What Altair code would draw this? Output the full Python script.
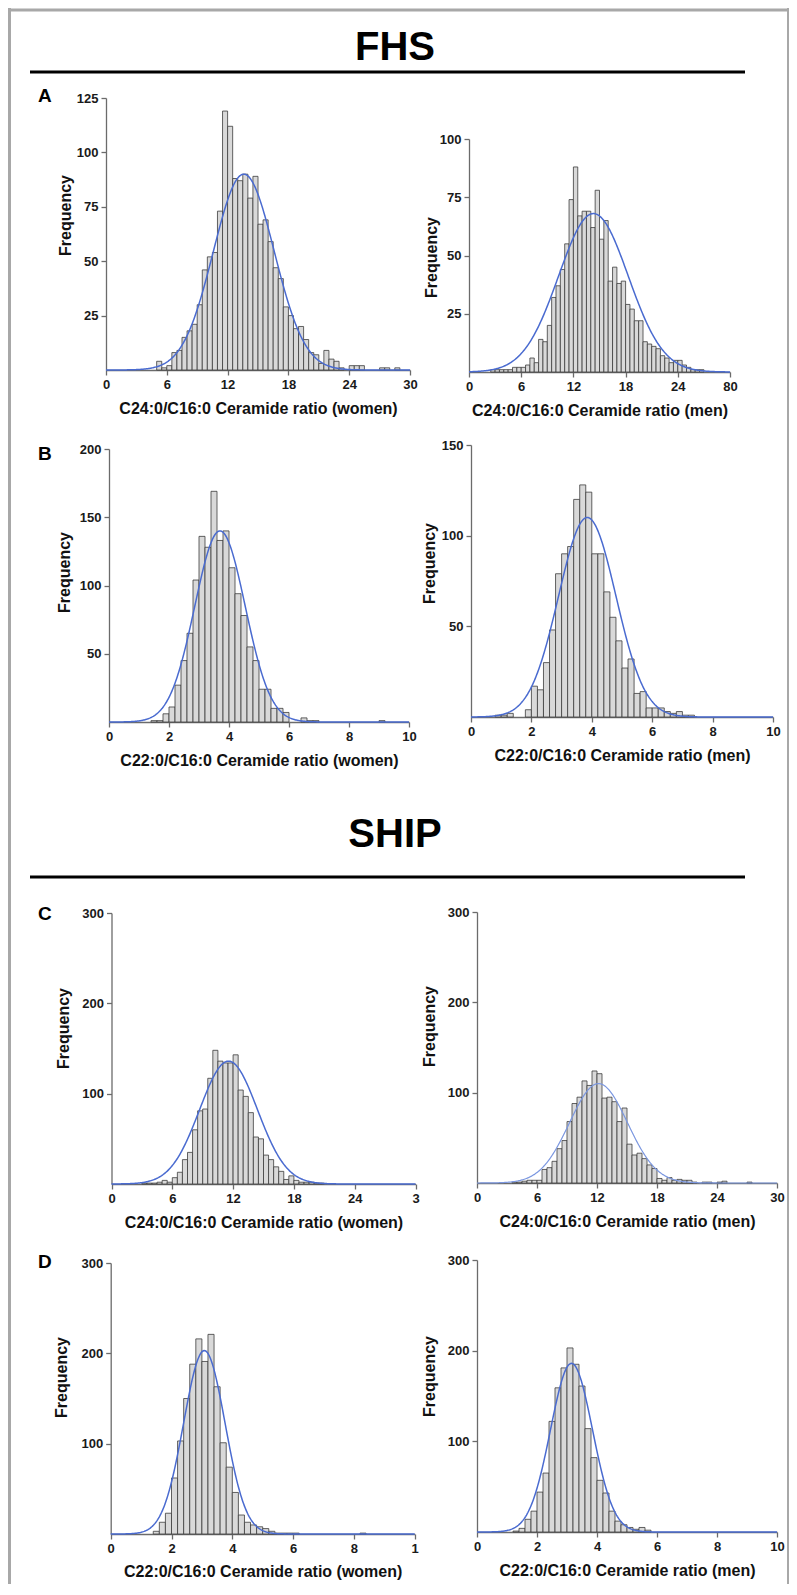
import altair as alt
import pandas as pd

FONT = "Liberation Sans"
FRAME_GRAY = "#a8a8a8"
BAR_FILL = "#d9d9d9"
BAR_STROKE = "#3c3c3c"
CURVE = "#4a6bd0"

# ---------------- data ----------------
# histogram = (first bin left edge, bin width, counts)
fhs_c24_women_start, fhs_c24_women_step = 5.0, 0.5
fhs_c24_women_counts = [4, 1, 2, 8, 9, 15, 18, 21, 30, 46, 52, 54, 73, 119, 112, 88, 87, 90, 79, 89,
                        67, 69, 59, 47, 42, 29, 25, 19, 20, 14, 8, 7, 3, 9, 5, 4, 1, 0, 2, 2,
                        2, 0, 0, 0, 1, 1, 0, 1]
fhs_c24_women_fit = (13.6, 3.0, 90)      # mean, sd, peak height

fhs_c24_men_start, fhs_c24_men_step = 2.5, 0.5
fhs_c24_men_counts = [1, 1, 1, 1, 1, 2, 2, 2, 3, 6, 4, 14, 13, 20, 32, 37, 44, 55, 74, 88,
                      67, 69, 69, 62, 78, 57, 65, 39, 45, 38, 39, 29, 27, 22, 22, 13, 12, 11, 10, 7,
                      6, 4, 5, 5, 3, 2, 1, 1, 1]
fhs_c24_men_fit = (14.3, 4.0, 68)

fhs_c22_women_start, fhs_c22_women_step = 1.4, 0.2
fhs_c22_women_counts = [1, 1, 6, 11, 27, 45, 65, 104, 136, 128, 169, 133, 140, 113, 94, 78, 55, 45, 24, 24,
                        10, 10, 7, 0, 0, 3, 1, 1, 0, 0, 0, 0, 0, 0, 0, 0, 0, 0, 1]
fhs_c22_women_fit = (3.7, 0.84, 140)

fhs_c22_men_start, fhs_c22_men_step = 0.8, 0.2
fhs_c22_men_counts = [1, 1, 2, 0, 0, 4, 17, 15, 30, 48, 79, 90, 94, 120, 128, 124, 90, 90, 69, 55,
                      42, 27, 32, 13, 14, 5, 5, 5, 3, 2, 3, 1, 1]
fhs_c22_men_fit = (3.85, 0.95, 110)

ship_c24_women_start, ship_c24_women_step = 3.0, 0.5
ship_c24_women_counts = [1, 1, 1, 2, 4, 2, 7, 13, 27, 35, 60, 81, 83, 117, 148, 136, 134, 134, 143, 104,
                         97, 79, 52, 50, 32, 27, 19, 14, 5, 9, 4, 2, 2, 2, 1, 1]
ship_c24_women_fit = (11.55, 2.85, 136)

ship_c24_men_start, ship_c24_men_step = 3.5, 0.5
ship_c24_men_counts = [1, 1, 2, 3, 3, 3, 15, 17, 24, 38, 47, 68, 88, 95, 113, 108, 124, 121, 94, 95,
                       90, 68, 83, 43, 31, 33, 27, 20, 16, 5, 3, 6, 3, 4, 3, 3, 1, 0, 1, 1,
                       0, 1, 2, 0, 0, 0, 0, 1]
ship_c24_men_fit = (12.15, 2.9, 110)

ship_c22_women_start, ship_c22_women_step = 1.4, 0.2
ship_c22_women_counts = [3, 13, 23, 62, 103, 150, 188, 216, 191, 221, 163, 101, 74, 46, 21, 13, 10, 8, 6, 3,
                         1, 1, 1, 1, 0, 0, 0, 0, 0, 0, 0, 0, 0, 0, 1]
ship_c22_women_fit = (3.08, 0.68, 203)

ship_c22_men_start, ship_c22_men_step = 1.2, 0.2
ship_c22_men_counts = [1, 4, 14, 23, 44, 65, 122, 159, 181, 203, 185, 161, 114, 82, 57, 43, 23, 12, 8, 5,
                       3, 5, 2]
ship_c22_men_fit = (3.15, 0.70, 186)

ticks_30 = [0, 6, 12, 18, 24, 30]
ticks_10 = [0, 2, 4, 6, 8, 10]
title_c24_women = "C24:0/C16:0 Ceramide ratio (women)"
title_c24_men = "C24:0/C16:0 Ceramide ratio (men)"
title_c22_women = "C22:0/C16:0 Ceramide ratio (women)"
title_c22_men = "C22:0/C16:0 Ceramide ratio (men)"

# ---------------- layout (page pixels) ----------------
LEFT_COL = (8, 420)
RIGHT_COL = (420, 789)
FULL_W = 789 - 8
RFRAME = (787, 789)
BAND_FHS = (8, 80)
BAND_A = (80, 420)
BAND_B = (420, 775)
BAND_SHIP = (775, 885)
BAND_C = (885, 1235)
BAND_D = (1235, 1584)

ONE = pd.DataFrame({"k": [0]})


def hist_frame(start, step, counts):
    xa, xb, cnt = [], [], []
    for i, c in enumerate(counts):
        if c > 0:
            a = round(start + i * step, 4)
            xa.append(a)
            xb.append(round(a + step, 4))
            cnt.append(c)
    return pd.DataFrame({"xa": xa, "xb": xb, "count": cnt})


def vrect(x1, x2, y1, y2, color, opacity=1.0):
    return alt.Chart(ONE).mark_rect(color=color, opacity=opacity).encode(
        x=alt.value(x1), x2=alt.value(x2), y=alt.value(y1), y2=alt.value(y2))


def panel(start, step, counts, fit, geom, col, band, xmax, ymax, xticks, yticks,
          xtitle, ytitle_pos, side, letter=None, lastlabel=None, curve_color=CURVE,
          curve_w=1.5, xtitle_dy=38):
    L, T, W, H = geom
    cx1, cx2 = col
    cy1, cy2 = band
    CW, CH = cx2 - cx1, cy2 - cy1
    px0, px1 = L - cx1, L + W - cx1
    py_bot, py_top = T + H - cy1, T - cy1
    xaxis_kw = dict(values=xticks, title=xtitle, tickSize=5, labelPadding=9,
                    labelBaseline="middle", labelFlush=False, labelOverlap=False,
                    titleY=xtitle_dy, titleBaseline="middle", grid=False, offset=py_bot - CH)
    if lastlabel:
        xaxis_kw["labelExpr"] = f"datum.value == {xmax} ? '{lastlabel}' : datum.label"
    xenc = alt.X("xa:Q", scale=alt.Scale(domain=[0, xmax], range=[px0, px1], nice=False, zero=False),
                 axis=alt.Axis(**xaxis_kw))
    tx, ty = ytitle_pos
    yenc = alt.Y("count:Q", scale=alt.Scale(domain=[0, ymax], range=[py_bot, py_top], nice=False),
                 axis=alt.Axis(values=yticks, title="Frequency", tickSize=5, labelPadding=3,
                               offset=-px0, titleX=tx - L, titleY=ty - cy1,
                               titleBaseline="middle", grid=False))
    layers = [vrect(0, CW, 0, CH, "white", 0)]
    if side == "left":
        layers.append(vrect(8 - cx1, 11 - cx1, 0, CH, FRAME_GRAY))
    else:
        layers.append(vrect(RFRAME[0] - cx1, RFRAME[1] - cx1, 0, CH, FRAME_GRAY))
    df = hist_frame(start, step, counts)
    bars = alt.Chart(df).mark_rect(fill=BAR_FILL, stroke=BAR_STROKE, strokeWidth=0.8).encode(
        x=xenc, x2="xb:Q", y=yenc, y2=alt.datum(0))
    mean, sd, peak = fit
    cstep = xmax / 400
    curve = alt.Chart(alt.sequence(0, xmax + cstep / 2, cstep, as_="xa")).transform_calculate(
        count=f"{peak} * exp(-0.5 * pow((datum.xa - {mean}) / {sd}, 2))"
    ).mark_line(color=curve_color, strokeWidth=curve_w).encode(x=xenc, y=yenc)
    layers += [bars, curve]
    if letter:
        txt, base = letter
        layers.append(alt.Chart(ONE).mark_text(
            text=txt, align="left", baseline="alphabetic", fontSize=19, fontWeight="bold",
            color="black").encode(x=alt.value(38 - cx1), y=alt.value(base - cy1)))
    return alt.layer(*layers).properties(width=CW, height=CH)


def header(text, band, baseline_y, line_y, top):
    y1, y2 = band
    H = y2 - y1
    layers = [vrect(0, FULL_W, 0, H, "white", 0),
              vrect(0, 3, 0, H, FRAME_GRAY),
              vrect(RFRAME[0] - 8, RFRAME[1] - 8, 0, H, FRAME_GRAY)]
    if top:
        layers.append(vrect(0, RFRAME[1] - 8, 0.5, 3.5, FRAME_GRAY))
    layers.append(alt.Chart(ONE).mark_text(
        text=text, align="center", baseline="alphabetic", fontSize=40, fontWeight="bold",
        color="black").encode(x=alt.value(395 - 8), y=alt.value(baseline_y - y1)))
    layers.append(vrect(30 - 8, 745 - 8, line_y - 1.5 - y1, line_y + 1.5 - y1, "black"))
    return alt.layer(*layers).properties(width=FULL_W, height=H)


a_left = panel(fhs_c24_women_start, fhs_c24_women_step, fhs_c24_women_counts, fhs_c24_women_fit,
               (106, 98, 304, 272), LEFT_COL, BAND_A, 30, 125, ticks_30, [25, 50, 75, 100, 125],
               title_c24_women, (65, 215), "left", letter=("A", 102))
a_right = panel(fhs_c24_men_start, fhs_c24_men_step, fhs_c24_men_counts, fhs_c24_men_fit,
                (469, 139, 261, 233), RIGHT_COL, BAND_A, 30, 100, ticks_30, [25, 50, 75, 100],
                title_c24_men, (431, 257), "right", lastlabel="80")
b_left = panel(fhs_c22_women_start, fhs_c22_women_step, fhs_c22_women_counts, fhs_c22_women_fit,
               (109, 449, 300, 273), LEFT_COL, BAND_B, 10, 200, ticks_10, [50, 100, 150, 200],
               title_c22_women, (64, 572), "left", letter=("B", 460))
b_right = panel(fhs_c22_men_start, fhs_c22_men_step, fhs_c22_men_counts, fhs_c22_men_fit,
                (471, 445, 302, 272), RIGHT_COL, BAND_B, 10, 150, ticks_10, [50, 100, 150],
                title_c22_men, (429, 563), "right")
c_left = panel(ship_c24_women_start, ship_c24_women_step, ship_c24_women_counts, ship_c24_women_fit,
               (111.5, 913, 304, 271), LEFT_COL, BAND_C, 30, 300, ticks_30, [100, 200, 300],
               title_c24_women, (63.5, 1028), "left", letter=("C", 920), lastlabel="3")
c_right = panel(ship_c24_men_start, ship_c24_men_step, ship_c24_men_counts, ship_c24_men_fit,
                (477, 912, 300, 271), RIGHT_COL, BAND_C, 30, 300, ticks_30, [100, 200, 300],
                title_c24_men, (429, 1026), "right", curve_color="#7b97e0", curve_w=1.2)
d_left = panel(ship_c22_women_start, ship_c22_women_step, ship_c22_women_counts, ship_c22_women_fit,
               (110.7, 1263, 304, 271), LEFT_COL, BAND_D, 10, 300, ticks_10, [100, 200, 300],
               title_c22_women, (61.5, 1377), "left", letter=("D", 1268), lastlabel="1",
               xtitle_dy=37)
d_right = panel(ship_c22_men_start, ship_c22_men_step, ship_c22_men_counts, ship_c22_men_fit,
                (477, 1260, 300, 272), RIGHT_COL, BAND_D, 10, 300, ticks_10, [100, 200, 300],
                title_c22_men, (429, 1376), "right", xtitle_dy=38)

hdr_fhs = header("FHS", BAND_FHS, 60, 72, True)
hdr_ship = header("SHIP", BAND_SHIP, 847, 877, False)

chart = alt.vconcat(
    hdr_fhs,
    alt.hconcat(a_left, a_right, spacing=0),
    alt.hconcat(b_left, b_right, spacing=0),
    hdr_ship,
    alt.hconcat(c_left, c_right, spacing=0),
    alt.hconcat(d_left, d_right, spacing=0),
    spacing=0,
).properties(padding=0).configure(font=FONT).configure_view(strokeWidth=0).configure_axis(
    domainColor="#6b6b6b", tickColor="#6b6b6b", domainWidth=1.3, tickWidth=1.3,
    labelFont=FONT, labelFontSize=13, labelFontWeight="bold", labelColor="#1a1a1a",
    titleFont=FONT, titleFontSize=16, titleFontWeight="bold", titleColor="#111111",
)

chart.save("out.html", embed_options={"renderer": "svg", "actions": False})
